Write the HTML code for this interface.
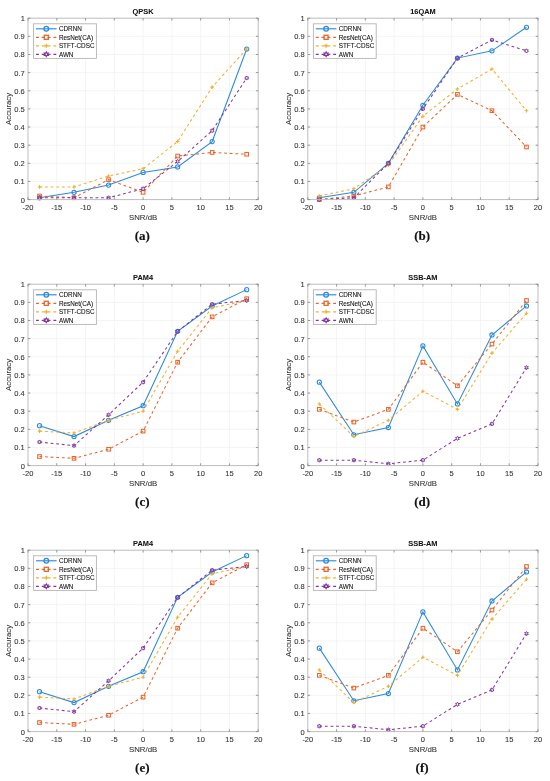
<!DOCTYPE html>
<html><head><meta charset="utf-8"><title>Accuracy vs SNR</title>
<style>
html,body{margin:0;padding:0;background:#fff;}
body{width:550px;height:781px;overflow:hidden;}
svg{display:block;filter:blur(0.25px);}
text{font-family:"Liberation Sans",sans-serif;fill:#333333;stroke:#333333;stroke-width:0.08px;}
.tk text{font-size:7.5px;}
.al{font-size:7.8px;}
.ti{font-size:7.4px;font-weight:bold;fill:#111;stroke:#111;stroke-width:0.05px;}
.lg{font-size:6.35px;fill:#111;stroke:#111;}
.cap{font-family:"Liberation Serif",serif;font-weight:bold;font-size:13px;fill:#111;stroke:#111;stroke-width:0.15px;}
</style></head>
<body>
<svg width="550" height="781" viewBox="0 0 550 781">
<rect width="550" height="781" fill="#fff"/>
<path d="M56.77 18.2V199.6M85.55 18.2V199.6M114.32 18.2V199.6M143.1 18.2V199.6M171.88 18.2V199.6M200.65 18.2V199.6M229.42 18.2V199.6M28 181.46H258.2M28 163.32H258.2M28 145.18H258.2M28 127.04H258.2M28 108.9H258.2M28 90.76H258.2M28 72.62H258.2M28 54.48H258.2M28 36.34H258.2" stroke="#f1f1f1" stroke-width="0.8" fill="none"/>
<polyline points="39.51,197.79 74.04,192.34 108.57,185.09 143.1,172.39 177.63,166.95 212.16,141.55 246.69,49.04" fill="none" stroke="#2a8bdb" stroke-width="1.05"/>
<circle cx="39.51" cy="197.79" r="2.1" fill="none" stroke="#2a8bdb" stroke-width="1.05"/>
<circle cx="74.04" cy="192.34" r="2.1" fill="none" stroke="#2a8bdb" stroke-width="1.05"/>
<circle cx="108.57" cy="185.09" r="2.1" fill="none" stroke="#2a8bdb" stroke-width="1.05"/>
<circle cx="143.1" cy="172.39" r="2.1" fill="none" stroke="#2a8bdb" stroke-width="1.05"/>
<circle cx="177.63" cy="166.95" r="2.1" fill="none" stroke="#2a8bdb" stroke-width="1.05"/>
<circle cx="212.16" cy="141.55" r="2.1" fill="none" stroke="#2a8bdb" stroke-width="1.05"/>
<circle cx="246.69" cy="49.04" r="2.1" fill="none" stroke="#2a8bdb" stroke-width="1.05"/>
<polyline points="39.51,195.97 74.04,197.79 108.57,179.65 143.1,192.34 177.63,156.06 212.16,152.44 246.69,154.25" fill="none" stroke="#e8652a" stroke-width="1.05" stroke-dasharray="2.8 2.8"/>
<rect x="37.7" y="194.17" width="3.61" height="3.61" fill="none" stroke="#e8652a" stroke-width="1.05"/>
<rect x="72.23" y="195.98" width="3.61" height="3.61" fill="none" stroke="#e8652a" stroke-width="1.05"/>
<rect x="106.76" y="177.84" width="3.61" height="3.61" fill="none" stroke="#e8652a" stroke-width="1.05"/>
<rect x="141.29" y="190.54" width="3.61" height="3.61" fill="none" stroke="#e8652a" stroke-width="1.05"/>
<rect x="175.82" y="154.26" width="3.61" height="3.61" fill="none" stroke="#e8652a" stroke-width="1.05"/>
<rect x="210.35" y="150.63" width="3.61" height="3.61" fill="none" stroke="#e8652a" stroke-width="1.05"/>
<rect x="244.88" y="152.44" width="3.61" height="3.61" fill="none" stroke="#e8652a" stroke-width="1.05"/>
<polyline points="39.51,186.9 74.04,186.9 108.57,176.02 143.1,168.76 177.63,141.55 212.16,87.13 246.69,49.04" fill="none" stroke="#f2b02c" stroke-width="1.05" stroke-dasharray="2.8 2.8"/>
<path d="M37.73 186.9H41.29M39.51 185.12V188.69" stroke="#f2b02c" stroke-width="1.05" fill="none"/>
<path d="M72.25 186.9H75.82M74.04 185.12V188.69" stroke="#f2b02c" stroke-width="1.05" fill="none"/>
<path d="M106.78 176.02H110.35M108.57 174.23V177.8" stroke="#f2b02c" stroke-width="1.05" fill="none"/>
<path d="M141.31 168.76H144.88M143.1 166.98V170.55" stroke="#f2b02c" stroke-width="1.05" fill="none"/>
<path d="M175.84 141.55H179.41M177.63 139.77V143.34" stroke="#f2b02c" stroke-width="1.05" fill="none"/>
<path d="M210.38 87.13H213.94M212.16 85.35V88.92" stroke="#f2b02c" stroke-width="1.05" fill="none"/>
<path d="M244.9 49.04H248.47M246.69 47.25V50.82" stroke="#f2b02c" stroke-width="1.05" fill="none"/>
<polyline points="39.51,197.79 74.04,197.79 108.57,197.79 143.1,188.72 177.63,161.51 212.16,130.67 246.69,78.06" fill="none" stroke="#8536a0" stroke-width="1.05" stroke-dasharray="2.8 2.8"/>
<path d="M39.51 195.73 L38.91 196.75 L37.73 196.76 L38.32 197.79 L37.73 198.81 L38.91 198.82 L39.51 199.84 L40.11 198.82 L41.29 198.81 L40.7 197.79 L41.29 196.76 L40.11 196.75Z" fill="none" stroke="#8536a0" stroke-width="1" stroke-linejoin="miter"/>
<path d="M74.04 195.73 L73.44 196.75 L72.26 196.76 L72.85 197.79 L72.26 198.81 L73.44 198.82 L74.04 199.84 L74.64 198.82 L75.82 198.81 L75.23 197.79 L75.82 196.76 L74.64 196.75Z" fill="none" stroke="#8536a0" stroke-width="1" stroke-linejoin="miter"/>
<path d="M108.57 195.73 L107.97 196.75 L106.79 196.76 L107.38 197.79 L106.79 198.81 L107.97 198.82 L108.57 199.84 L109.17 198.82 L110.35 198.81 L109.76 197.79 L110.35 196.76 L109.17 196.75Z" fill="none" stroke="#8536a0" stroke-width="1" stroke-linejoin="miter"/>
<path d="M143.1 186.66 L142.5 187.68 L141.32 187.69 L141.91 188.72 L141.32 189.75 L142.5 189.75 L143.1 190.77 L143.7 189.75 L144.88 189.75 L144.29 188.72 L144.88 187.69 L143.7 187.68Z" fill="none" stroke="#8536a0" stroke-width="1" stroke-linejoin="miter"/>
<path d="M177.63 159.45 L177.03 160.47 L175.85 160.48 L176.44 161.51 L175.85 162.53 L177.03 162.54 L177.63 163.56 L178.23 162.54 L179.41 162.53 L178.82 161.51 L179.41 160.48 L178.23 160.47Z" fill="none" stroke="#8536a0" stroke-width="1" stroke-linejoin="miter"/>
<path d="M212.16 128.61 L211.56 129.63 L210.38 129.64 L210.97 130.67 L210.38 131.7 L211.56 131.7 L212.16 132.73 L212.76 131.7 L213.94 131.7 L213.35 130.67 L213.94 129.64 L212.76 129.63Z" fill="none" stroke="#8536a0" stroke-width="1" stroke-linejoin="miter"/>
<path d="M246.69 76 L246.09 77.03 L244.91 77.03 L245.5 78.06 L244.91 79.09 L246.09 79.1 L246.69 80.12 L247.29 79.1 L248.47 79.09 L247.88 78.06 L248.47 77.03 L247.29 77.03Z" fill="none" stroke="#8536a0" stroke-width="1" stroke-linejoin="miter"/>
<rect x="28" y="18.2" width="230.2" height="181.4" fill="none" stroke="#bdbdbd" stroke-width="1"/>
<path d="M28 199.6v-2.3M28 18.2v2.3M56.77 199.6v-2.3M56.77 18.2v2.3M85.55 199.6v-2.3M85.55 18.2v2.3M114.32 199.6v-2.3M114.32 18.2v2.3M143.1 199.6v-2.3M143.1 18.2v2.3M171.88 199.6v-2.3M171.88 18.2v2.3M200.65 199.6v-2.3M200.65 18.2v2.3M229.42 199.6v-2.3M229.42 18.2v2.3M258.2 199.6v-2.3M258.2 18.2v2.3M28 199.6h2.3M258.2 199.6h-2.3M28 181.46h2.3M258.2 181.46h-2.3M28 163.32h2.3M258.2 163.32h-2.3M28 145.18h2.3M258.2 145.18h-2.3M28 127.04h2.3M258.2 127.04h-2.3M28 108.9h2.3M258.2 108.9h-2.3M28 90.76h2.3M258.2 90.76h-2.3M28 72.62h2.3M258.2 72.62h-2.3M28 54.48h2.3M258.2 54.48h-2.3M28 36.34h2.3M258.2 36.34h-2.3M28 18.2h2.3M258.2 18.2h-2.3" stroke="#808080" stroke-width="0.8" fill="none"/>
<g class="tk"><text x="28" y="209.8" text-anchor="middle">-20</text><text x="56.77" y="209.8" text-anchor="middle">-15</text><text x="85.55" y="209.8" text-anchor="middle">-10</text><text x="114.32" y="209.8" text-anchor="middle">-5</text><text x="143.1" y="209.8" text-anchor="middle">0</text><text x="171.88" y="209.8" text-anchor="middle">5</text><text x="200.65" y="209.8" text-anchor="middle">10</text><text x="229.42" y="209.8" text-anchor="middle">15</text><text x="258.2" y="209.8" text-anchor="middle">20</text><text x="24.8" y="202.6" text-anchor="end">0</text><text x="24.8" y="184.46" text-anchor="end">0.1</text><text x="24.8" y="166.32" text-anchor="end">0.2</text><text x="24.8" y="148.18" text-anchor="end">0.3</text><text x="24.8" y="130.04" text-anchor="end">0.4</text><text x="24.8" y="111.9" text-anchor="end">0.5</text><text x="24.8" y="93.76" text-anchor="end">0.6</text><text x="24.8" y="75.62" text-anchor="end">0.7</text><text x="24.8" y="57.48" text-anchor="end">0.8</text><text x="24.8" y="39.34" text-anchor="end">0.9</text><text x="24.8" y="21.2" text-anchor="end">1</text></g>
<text class="al" x="143.1" y="220.4" text-anchor="middle">SNR/dB</text>
<text class="al" transform="translate(11.2 108.9) rotate(-90)" text-anchor="middle">Accuracy</text>
<text class="ti" x="143.1" y="14.3" text-anchor="middle">QPSK</text>
<text class="cap" x="142.3" y="240.2" text-anchor="middle">(a)</text>
<rect x="33.6" y="23.8" width="62.8" height="34.6" fill="#fff" stroke="#b4b4b4" stroke-width="0.9"/>
<path d="M36 28.8H56.6" stroke="#2a8bdb" stroke-width="1.15" fill="none"/>
<circle cx="46.3" cy="28.8" r="2.35" fill="none" stroke="#2a8bdb" stroke-width="1.3"/>
<text class="lg" x="58.9" y="31">CDRNN</text>
<path d="M36 37.3H56.6" stroke="#e8652a" stroke-width="1.15" stroke-dasharray="2.9 2.9" fill="none"/>
<rect x="44.28" y="35.28" width="4.05" height="4.05" fill="none" stroke="#e8652a" stroke-width="1.3"/>
<text class="lg" x="58.9" y="39.5">ResNet(CA)</text>
<path d="M36 45.8H56.6" stroke="#f2b02c" stroke-width="1.15" stroke-dasharray="2.9 2.9" fill="none"/>
<path d="M44.3 45.8H48.3M46.3 43.8V47.8" stroke="#f2b02c" stroke-width="1.3" fill="none"/>
<text class="lg" x="58.9" y="48">STFT-CDSC</text>
<path d="M36 54.3H56.6" stroke="#8536a0" stroke-width="1.15" stroke-dasharray="2.9 2.9" fill="none"/>
<path d="M46.3 52 L45.63 53.14 L44.3 53.15 L44.96 54.3 L44.3 55.45 L45.63 55.46 L46.3 56.6 L46.97 55.46 L48.3 55.45 L47.64 54.3 L48.3 53.15 L46.97 53.14Z" fill="none" stroke="#8536a0" stroke-width="1.23" stroke-linejoin="miter"/>
<text class="lg" x="58.9" y="56.5">AWN</text>
<path d="M336.57 18.2V199.6M365.35 18.2V199.6M394.12 18.2V199.6M422.9 18.2V199.6M451.68 18.2V199.6M480.45 18.2V199.6M509.23 18.2V199.6M307.8 181.46H538M307.8 163.32H538M307.8 145.18H538M307.8 127.04H538M307.8 108.9H538M307.8 90.76H538M307.8 72.62H538M307.8 54.48H538M307.8 36.34H538" stroke="#f1f1f1" stroke-width="0.8" fill="none"/>
<polyline points="319.31,197.79 353.84,192.34 388.37,163.32 422.9,105.27 457.43,58.11 491.96,50.85 526.49,27.27" fill="none" stroke="#2a8bdb" stroke-width="1.05"/>
<circle cx="319.31" cy="197.79" r="2.1" fill="none" stroke="#2a8bdb" stroke-width="1.05"/>
<circle cx="353.84" cy="192.34" r="2.1" fill="none" stroke="#2a8bdb" stroke-width="1.05"/>
<circle cx="388.37" cy="163.32" r="2.1" fill="none" stroke="#2a8bdb" stroke-width="1.05"/>
<circle cx="422.9" cy="105.27" r="2.1" fill="none" stroke="#2a8bdb" stroke-width="1.05"/>
<circle cx="457.43" cy="58.11" r="2.1" fill="none" stroke="#2a8bdb" stroke-width="1.05"/>
<circle cx="491.96" cy="50.85" r="2.1" fill="none" stroke="#2a8bdb" stroke-width="1.05"/>
<circle cx="526.49" cy="27.27" r="2.1" fill="none" stroke="#2a8bdb" stroke-width="1.05"/>
<polyline points="319.31,199.6 353.84,195.97 388.37,186.9 422.9,127.04 457.43,94.39 491.96,110.71 526.49,146.99" fill="none" stroke="#e8652a" stroke-width="1.05" stroke-dasharray="2.8 2.8"/>
<rect x="317.5" y="197.79" width="3.61" height="3.61" fill="none" stroke="#e8652a" stroke-width="1.05"/>
<rect x="352.03" y="194.17" width="3.61" height="3.61" fill="none" stroke="#e8652a" stroke-width="1.05"/>
<rect x="386.56" y="185.1" width="3.61" height="3.61" fill="none" stroke="#e8652a" stroke-width="1.05"/>
<rect x="421.09" y="125.23" width="3.61" height="3.61" fill="none" stroke="#e8652a" stroke-width="1.05"/>
<rect x="455.62" y="92.58" width="3.61" height="3.61" fill="none" stroke="#e8652a" stroke-width="1.05"/>
<rect x="490.15" y="108.91" width="3.61" height="3.61" fill="none" stroke="#e8652a" stroke-width="1.05"/>
<rect x="524.68" y="145.19" width="3.61" height="3.61" fill="none" stroke="#e8652a" stroke-width="1.05"/>
<polyline points="319.31,195.97 353.84,188.72 388.37,165.13 422.9,116.16 457.43,88.95 491.96,68.99 526.49,110.71" fill="none" stroke="#f2b02c" stroke-width="1.05" stroke-dasharray="2.8 2.8"/>
<path d="M317.52 195.97H321.1M319.31 194.19V197.76" stroke="#f2b02c" stroke-width="1.05" fill="none"/>
<path d="M352.06 188.72H355.63M353.84 186.93V190.5" stroke="#f2b02c" stroke-width="1.05" fill="none"/>
<path d="M386.58 165.13H390.16M388.37 163.35V166.92" stroke="#f2b02c" stroke-width="1.05" fill="none"/>
<path d="M421.11 116.16H424.69M422.9 114.37V117.94" stroke="#f2b02c" stroke-width="1.05" fill="none"/>
<path d="M455.64 88.95H459.22M457.43 87.16V90.73" stroke="#f2b02c" stroke-width="1.05" fill="none"/>
<path d="M490.18 68.99H493.75M491.96 67.21V70.78" stroke="#f2b02c" stroke-width="1.05" fill="none"/>
<path d="M524.71 110.71H528.27M526.49 108.93V112.5" stroke="#f2b02c" stroke-width="1.05" fill="none"/>
<polyline points="319.31,199.6 353.84,197.79 388.37,163.32 422.9,108.9 457.43,58.11 491.96,39.97 526.49,50.85" fill="none" stroke="#8536a0" stroke-width="1.05" stroke-dasharray="2.8 2.8"/>
<path d="M319.31 197.54 L318.71 198.57 L317.53 198.57 L318.12 199.6 L317.53 200.63 L318.71 200.63 L319.31 201.66 L319.91 200.63 L321.09 200.63 L320.5 199.6 L321.09 198.57 L319.91 198.57Z" fill="none" stroke="#8536a0" stroke-width="1" stroke-linejoin="miter"/>
<path d="M353.84 195.73 L353.24 196.75 L352.06 196.76 L352.65 197.79 L352.06 198.81 L353.24 198.82 L353.84 199.84 L354.44 198.82 L355.62 198.81 L355.03 197.79 L355.62 196.76 L354.44 196.75Z" fill="none" stroke="#8536a0" stroke-width="1" stroke-linejoin="miter"/>
<path d="M388.37 161.26 L387.77 162.29 L386.59 162.29 L387.18 163.32 L386.59 164.35 L387.77 164.35 L388.37 165.38 L388.97 164.35 L390.15 164.35 L389.56 163.32 L390.15 162.29 L388.97 162.29Z" fill="none" stroke="#8536a0" stroke-width="1" stroke-linejoin="miter"/>
<path d="M422.9 106.84 L422.3 107.87 L421.12 107.87 L421.71 108.9 L421.12 109.93 L422.3 109.93 L422.9 110.96 L423.5 109.93 L424.68 109.93 L424.09 108.9 L424.68 107.87 L423.5 107.87Z" fill="none" stroke="#8536a0" stroke-width="1" stroke-linejoin="miter"/>
<path d="M457.43 56.05 L456.83 57.07 L455.65 57.08 L456.24 58.11 L455.65 59.14 L456.83 59.14 L457.43 60.17 L458.03 59.14 L459.21 59.14 L458.62 58.11 L459.21 57.08 L458.03 57.07Z" fill="none" stroke="#8536a0" stroke-width="1" stroke-linejoin="miter"/>
<path d="M491.96 37.91 L491.36 38.93 L490.18 38.94 L490.77 39.97 L490.18 41 L491.36 41 L491.96 42.03 L492.56 41 L493.74 41 L493.15 39.97 L493.74 38.94 L492.56 38.93Z" fill="none" stroke="#8536a0" stroke-width="1" stroke-linejoin="miter"/>
<path d="M526.49 48.79 L525.89 49.82 L524.71 49.82 L525.3 50.85 L524.71 51.88 L525.89 51.89 L526.49 52.91 L527.09 51.89 L528.27 51.88 L527.68 50.85 L528.27 49.82 L527.09 49.82Z" fill="none" stroke="#8536a0" stroke-width="1" stroke-linejoin="miter"/>
<rect x="307.8" y="18.2" width="230.2" height="181.4" fill="none" stroke="#bdbdbd" stroke-width="1"/>
<path d="M307.8 199.6v-2.3M307.8 18.2v2.3M336.57 199.6v-2.3M336.57 18.2v2.3M365.35 199.6v-2.3M365.35 18.2v2.3M394.12 199.6v-2.3M394.12 18.2v2.3M422.9 199.6v-2.3M422.9 18.2v2.3M451.68 199.6v-2.3M451.68 18.2v2.3M480.45 199.6v-2.3M480.45 18.2v2.3M509.23 199.6v-2.3M509.23 18.2v2.3M538 199.6v-2.3M538 18.2v2.3M307.8 199.6h2.3M538 199.6h-2.3M307.8 181.46h2.3M538 181.46h-2.3M307.8 163.32h2.3M538 163.32h-2.3M307.8 145.18h2.3M538 145.18h-2.3M307.8 127.04h2.3M538 127.04h-2.3M307.8 108.9h2.3M538 108.9h-2.3M307.8 90.76h2.3M538 90.76h-2.3M307.8 72.62h2.3M538 72.62h-2.3M307.8 54.48h2.3M538 54.48h-2.3M307.8 36.34h2.3M538 36.34h-2.3M307.8 18.2h2.3M538 18.2h-2.3" stroke="#808080" stroke-width="0.8" fill="none"/>
<g class="tk"><text x="307.8" y="209.8" text-anchor="middle">-20</text><text x="336.57" y="209.8" text-anchor="middle">-15</text><text x="365.35" y="209.8" text-anchor="middle">-10</text><text x="394.12" y="209.8" text-anchor="middle">-5</text><text x="422.9" y="209.8" text-anchor="middle">0</text><text x="451.68" y="209.8" text-anchor="middle">5</text><text x="480.45" y="209.8" text-anchor="middle">10</text><text x="509.23" y="209.8" text-anchor="middle">15</text><text x="538" y="209.8" text-anchor="middle">20</text><text x="304.6" y="202.6" text-anchor="end">0</text><text x="304.6" y="184.46" text-anchor="end">0.1</text><text x="304.6" y="166.32" text-anchor="end">0.2</text><text x="304.6" y="148.18" text-anchor="end">0.3</text><text x="304.6" y="130.04" text-anchor="end">0.4</text><text x="304.6" y="111.9" text-anchor="end">0.5</text><text x="304.6" y="93.76" text-anchor="end">0.6</text><text x="304.6" y="75.62" text-anchor="end">0.7</text><text x="304.6" y="57.48" text-anchor="end">0.8</text><text x="304.6" y="39.34" text-anchor="end">0.9</text><text x="304.6" y="21.2" text-anchor="end">1</text></g>
<text class="al" x="422.9" y="220.4" text-anchor="middle">SNR/dB</text>
<text class="al" transform="translate(291 108.9) rotate(-90)" text-anchor="middle">Accuracy</text>
<text class="ti" x="422.9" y="14.3" text-anchor="middle">16QAM</text>
<text class="cap" x="422.1" y="240.2" text-anchor="middle">(b)</text>
<rect x="313.4" y="23.8" width="62.8" height="34.6" fill="#fff" stroke="#b4b4b4" stroke-width="0.9"/>
<path d="M315.8 28.8H336.4" stroke="#2a8bdb" stroke-width="1.15" fill="none"/>
<circle cx="326.1" cy="28.8" r="2.35" fill="none" stroke="#2a8bdb" stroke-width="1.3"/>
<text class="lg" x="338.7" y="31">CDRNN</text>
<path d="M315.8 37.3H336.4" stroke="#e8652a" stroke-width="1.15" stroke-dasharray="2.9 2.9" fill="none"/>
<rect x="324.08" y="35.28" width="4.05" height="4.05" fill="none" stroke="#e8652a" stroke-width="1.3"/>
<text class="lg" x="338.7" y="39.5">ResNet(CA)</text>
<path d="M315.8 45.8H336.4" stroke="#f2b02c" stroke-width="1.15" stroke-dasharray="2.9 2.9" fill="none"/>
<path d="M324.1 45.8H328.1M326.1 43.8V47.8" stroke="#f2b02c" stroke-width="1.3" fill="none"/>
<text class="lg" x="338.7" y="48">STFT-CDSC</text>
<path d="M315.8 54.3H336.4" stroke="#8536a0" stroke-width="1.15" stroke-dasharray="2.9 2.9" fill="none"/>
<path d="M326.1 52 L325.43 53.14 L324.1 53.15 L324.76 54.3 L324.1 55.45 L325.43 55.46 L326.1 56.6 L326.77 55.46 L328.1 55.45 L327.44 54.3 L328.1 53.15 L326.77 53.14Z" fill="none" stroke="#8536a0" stroke-width="1.23" stroke-linejoin="miter"/>
<text class="lg" x="338.7" y="56.5">AWN</text>
<path d="M56.77 284.2V465.6M85.55 284.2V465.6M114.32 284.2V465.6M143.1 284.2V465.6M171.88 284.2V465.6M200.65 284.2V465.6M229.42 284.2V465.6M28 447.46H258.2M28 429.32H258.2M28 411.18H258.2M28 393.04H258.2M28 374.9H258.2M28 356.76H258.2M28 338.62H258.2M28 320.48H258.2M28 302.34H258.2" stroke="#f1f1f1" stroke-width="0.8" fill="none"/>
<polyline points="39.51,425.69 74.04,436.58 108.57,420.25 143.1,405.74 177.63,331.36 212.16,305.97 246.69,289.64" fill="none" stroke="#2a8bdb" stroke-width="1.05"/>
<circle cx="39.51" cy="425.69" r="2.1" fill="none" stroke="#2a8bdb" stroke-width="1.05"/>
<circle cx="74.04" cy="436.58" r="2.1" fill="none" stroke="#2a8bdb" stroke-width="1.05"/>
<circle cx="108.57" cy="420.25" r="2.1" fill="none" stroke="#2a8bdb" stroke-width="1.05"/>
<circle cx="143.1" cy="405.74" r="2.1" fill="none" stroke="#2a8bdb" stroke-width="1.05"/>
<circle cx="177.63" cy="331.36" r="2.1" fill="none" stroke="#2a8bdb" stroke-width="1.05"/>
<circle cx="212.16" cy="305.97" r="2.1" fill="none" stroke="#2a8bdb" stroke-width="1.05"/>
<circle cx="246.69" cy="289.64" r="2.1" fill="none" stroke="#2a8bdb" stroke-width="1.05"/>
<polyline points="39.51,456.53 74.04,458.34 108.57,449.27 143.1,431.13 177.63,362.2 212.16,316.85 246.69,298.71" fill="none" stroke="#e8652a" stroke-width="1.05" stroke-dasharray="2.8 2.8"/>
<rect x="37.7" y="454.72" width="3.61" height="3.61" fill="none" stroke="#e8652a" stroke-width="1.05"/>
<rect x="72.23" y="456.54" width="3.61" height="3.61" fill="none" stroke="#e8652a" stroke-width="1.05"/>
<rect x="106.76" y="447.47" width="3.61" height="3.61" fill="none" stroke="#e8652a" stroke-width="1.05"/>
<rect x="141.29" y="429.33" width="3.61" height="3.61" fill="none" stroke="#e8652a" stroke-width="1.05"/>
<rect x="175.82" y="360.4" width="3.61" height="3.61" fill="none" stroke="#e8652a" stroke-width="1.05"/>
<rect x="210.35" y="315.05" width="3.61" height="3.61" fill="none" stroke="#e8652a" stroke-width="1.05"/>
<rect x="244.88" y="296.91" width="3.61" height="3.61" fill="none" stroke="#e8652a" stroke-width="1.05"/>
<polyline points="39.51,431.13 74.04,432.95 108.57,420.25 143.1,411.18 177.63,351.32 212.16,307.78 246.69,300.53" fill="none" stroke="#f2b02c" stroke-width="1.05" stroke-dasharray="2.8 2.8"/>
<path d="M37.73 431.13H41.29M39.51 429.35V432.92" stroke="#f2b02c" stroke-width="1.05" fill="none"/>
<path d="M72.25 432.95H75.82M74.04 431.16V434.73" stroke="#f2b02c" stroke-width="1.05" fill="none"/>
<path d="M106.78 420.25H110.35M108.57 418.46V422.04" stroke="#f2b02c" stroke-width="1.05" fill="none"/>
<path d="M141.31 411.18H144.88M143.1 409.39V412.97" stroke="#f2b02c" stroke-width="1.05" fill="none"/>
<path d="M175.84 351.32H179.41M177.63 349.53V353.1" stroke="#f2b02c" stroke-width="1.05" fill="none"/>
<path d="M210.38 307.78H213.94M212.16 306V309.57" stroke="#f2b02c" stroke-width="1.05" fill="none"/>
<path d="M244.9 300.53H248.47M246.69 298.74V302.31" stroke="#f2b02c" stroke-width="1.05" fill="none"/>
<polyline points="39.51,442.02 74.04,445.65 108.57,414.81 143.1,382.16 177.63,331.36 212.16,304.15 246.69,300.53" fill="none" stroke="#8536a0" stroke-width="1.05" stroke-dasharray="2.8 2.8"/>
<path d="M39.51 439.96 L38.91 440.98 L37.73 440.99 L38.32 442.02 L37.73 443.05 L38.91 443.05 L39.51 444.08 L40.11 443.05 L41.29 443.05 L40.7 442.02 L41.29 440.99 L40.11 440.98Z" fill="none" stroke="#8536a0" stroke-width="1" stroke-linejoin="miter"/>
<path d="M74.04 443.59 L73.44 444.61 L72.26 444.62 L72.85 445.65 L72.26 446.68 L73.44 446.68 L74.04 447.7 L74.64 446.68 L75.82 446.68 L75.23 445.65 L75.82 444.62 L74.64 444.61Z" fill="none" stroke="#8536a0" stroke-width="1" stroke-linejoin="miter"/>
<path d="M108.57 412.75 L107.97 413.77 L106.79 413.78 L107.38 414.81 L106.79 415.84 L107.97 415.84 L108.57 416.87 L109.17 415.84 L110.35 415.84 L109.76 414.81 L110.35 413.78 L109.17 413.77Z" fill="none" stroke="#8536a0" stroke-width="1" stroke-linejoin="miter"/>
<path d="M143.1 380.1 L142.5 381.12 L141.32 381.13 L141.91 382.16 L141.32 383.19 L142.5 383.19 L143.1 384.21 L143.7 383.19 L144.88 383.19 L144.29 382.16 L144.88 381.13 L143.7 381.12Z" fill="none" stroke="#8536a0" stroke-width="1" stroke-linejoin="miter"/>
<path d="M177.63 329.31 L177.03 330.33 L175.85 330.34 L176.44 331.36 L175.85 332.39 L177.03 332.4 L177.63 333.42 L178.23 332.4 L179.41 332.39 L178.82 331.36 L179.41 330.34 L178.23 330.33Z" fill="none" stroke="#8536a0" stroke-width="1" stroke-linejoin="miter"/>
<path d="M212.16 302.1 L211.56 303.12 L210.38 303.12 L210.97 304.15 L210.38 305.18 L211.56 305.19 L212.16 306.21 L212.76 305.19 L213.94 305.18 L213.35 304.15 L213.94 303.12 L212.76 303.12Z" fill="none" stroke="#8536a0" stroke-width="1" stroke-linejoin="miter"/>
<path d="M246.69 298.47 L246.09 299.49 L244.91 299.5 L245.5 300.53 L244.91 301.56 L246.09 301.56 L246.69 302.58 L247.29 301.56 L248.47 301.56 L247.88 300.53 L248.47 299.5 L247.29 299.49Z" fill="none" stroke="#8536a0" stroke-width="1" stroke-linejoin="miter"/>
<rect x="28" y="284.2" width="230.2" height="181.4" fill="none" stroke="#bdbdbd" stroke-width="1"/>
<path d="M28 465.6v-2.3M28 284.2v2.3M56.77 465.6v-2.3M56.77 284.2v2.3M85.55 465.6v-2.3M85.55 284.2v2.3M114.32 465.6v-2.3M114.32 284.2v2.3M143.1 465.6v-2.3M143.1 284.2v2.3M171.88 465.6v-2.3M171.88 284.2v2.3M200.65 465.6v-2.3M200.65 284.2v2.3M229.42 465.6v-2.3M229.42 284.2v2.3M258.2 465.6v-2.3M258.2 284.2v2.3M28 465.6h2.3M258.2 465.6h-2.3M28 447.46h2.3M258.2 447.46h-2.3M28 429.32h2.3M258.2 429.32h-2.3M28 411.18h2.3M258.2 411.18h-2.3M28 393.04h2.3M258.2 393.04h-2.3M28 374.9h2.3M258.2 374.9h-2.3M28 356.76h2.3M258.2 356.76h-2.3M28 338.62h2.3M258.2 338.62h-2.3M28 320.48h2.3M258.2 320.48h-2.3M28 302.34h2.3M258.2 302.34h-2.3M28 284.2h2.3M258.2 284.2h-2.3" stroke="#808080" stroke-width="0.8" fill="none"/>
<g class="tk"><text x="28" y="475.8" text-anchor="middle">-20</text><text x="56.77" y="475.8" text-anchor="middle">-15</text><text x="85.55" y="475.8" text-anchor="middle">-10</text><text x="114.32" y="475.8" text-anchor="middle">-5</text><text x="143.1" y="475.8" text-anchor="middle">0</text><text x="171.88" y="475.8" text-anchor="middle">5</text><text x="200.65" y="475.8" text-anchor="middle">10</text><text x="229.42" y="475.8" text-anchor="middle">15</text><text x="258.2" y="475.8" text-anchor="middle">20</text><text x="24.8" y="468.6" text-anchor="end">0</text><text x="24.8" y="450.46" text-anchor="end">0.1</text><text x="24.8" y="432.32" text-anchor="end">0.2</text><text x="24.8" y="414.18" text-anchor="end">0.3</text><text x="24.8" y="396.04" text-anchor="end">0.4</text><text x="24.8" y="377.9" text-anchor="end">0.5</text><text x="24.8" y="359.76" text-anchor="end">0.6</text><text x="24.8" y="341.62" text-anchor="end">0.7</text><text x="24.8" y="323.48" text-anchor="end">0.8</text><text x="24.8" y="305.34" text-anchor="end">0.9</text><text x="24.8" y="287.2" text-anchor="end">1</text></g>
<text class="al" x="143.1" y="486.4" text-anchor="middle">SNR/dB</text>
<text class="al" transform="translate(11.2 374.9) rotate(-90)" text-anchor="middle">Accuracy</text>
<text class="ti" x="143.1" y="280.3" text-anchor="middle">PAM4</text>
<text class="cap" x="142.3" y="506.2" text-anchor="middle">(c)</text>
<rect x="33.6" y="289.8" width="62.8" height="34.6" fill="#fff" stroke="#b4b4b4" stroke-width="0.9"/>
<path d="M36 294.8H56.6" stroke="#2a8bdb" stroke-width="1.15" fill="none"/>
<circle cx="46.3" cy="294.8" r="2.35" fill="none" stroke="#2a8bdb" stroke-width="1.3"/>
<text class="lg" x="58.9" y="297">CDRNN</text>
<path d="M36 303.3H56.6" stroke="#e8652a" stroke-width="1.15" stroke-dasharray="2.9 2.9" fill="none"/>
<rect x="44.28" y="301.28" width="4.05" height="4.05" fill="none" stroke="#e8652a" stroke-width="1.3"/>
<text class="lg" x="58.9" y="305.5">ResNet(CA)</text>
<path d="M36 311.8H56.6" stroke="#f2b02c" stroke-width="1.15" stroke-dasharray="2.9 2.9" fill="none"/>
<path d="M44.3 311.8H48.3M46.3 309.8V313.8" stroke="#f2b02c" stroke-width="1.3" fill="none"/>
<text class="lg" x="58.9" y="314">STFT-CDSC</text>
<path d="M36 320.3H56.6" stroke="#8536a0" stroke-width="1.15" stroke-dasharray="2.9 2.9" fill="none"/>
<path d="M46.3 318 L45.63 319.14 L44.3 319.15 L44.96 320.3 L44.3 321.45 L45.63 321.46 L46.3 322.6 L46.97 321.46 L48.3 321.45 L47.64 320.3 L48.3 319.15 L46.97 319.14Z" fill="none" stroke="#8536a0" stroke-width="1.23" stroke-linejoin="miter"/>
<text class="lg" x="58.9" y="322.5">AWN</text>
<path d="M336.57 284.2V465.6M365.35 284.2V465.6M394.12 284.2V465.6M422.9 284.2V465.6M451.68 284.2V465.6M480.45 284.2V465.6M509.23 284.2V465.6M307.8 447.46H538M307.8 429.32H538M307.8 411.18H538M307.8 393.04H538M307.8 374.9H538M307.8 356.76H538M307.8 338.62H538M307.8 320.48H538M307.8 302.34H538" stroke="#f1f1f1" stroke-width="0.8" fill="none"/>
<polyline points="319.31,382.16 353.84,434.76 388.37,427.51 422.9,345.88 457.43,403.92 491.96,334.99 526.49,305.97" fill="none" stroke="#2a8bdb" stroke-width="1.05"/>
<circle cx="319.31" cy="382.16" r="2.1" fill="none" stroke="#2a8bdb" stroke-width="1.05"/>
<circle cx="353.84" cy="434.76" r="2.1" fill="none" stroke="#2a8bdb" stroke-width="1.05"/>
<circle cx="388.37" cy="427.51" r="2.1" fill="none" stroke="#2a8bdb" stroke-width="1.05"/>
<circle cx="422.9" cy="345.88" r="2.1" fill="none" stroke="#2a8bdb" stroke-width="1.05"/>
<circle cx="457.43" cy="403.92" r="2.1" fill="none" stroke="#2a8bdb" stroke-width="1.05"/>
<circle cx="491.96" cy="334.99" r="2.1" fill="none" stroke="#2a8bdb" stroke-width="1.05"/>
<circle cx="526.49" cy="305.97" r="2.1" fill="none" stroke="#2a8bdb" stroke-width="1.05"/>
<polyline points="319.31,409.37 353.84,422.06 388.37,409.37 422.9,362.2 457.43,385.78 491.96,344.06 526.49,300.53" fill="none" stroke="#e8652a" stroke-width="1.05" stroke-dasharray="2.8 2.8"/>
<rect x="317.5" y="407.56" width="3.61" height="3.61" fill="none" stroke="#e8652a" stroke-width="1.05"/>
<rect x="352.03" y="420.26" width="3.61" height="3.61" fill="none" stroke="#e8652a" stroke-width="1.05"/>
<rect x="386.56" y="407.56" width="3.61" height="3.61" fill="none" stroke="#e8652a" stroke-width="1.05"/>
<rect x="421.09" y="360.4" width="3.61" height="3.61" fill="none" stroke="#e8652a" stroke-width="1.05"/>
<rect x="455.62" y="383.98" width="3.61" height="3.61" fill="none" stroke="#e8652a" stroke-width="1.05"/>
<rect x="490.15" y="342.26" width="3.61" height="3.61" fill="none" stroke="#e8652a" stroke-width="1.05"/>
<rect x="524.68" y="298.72" width="3.61" height="3.61" fill="none" stroke="#e8652a" stroke-width="1.05"/>
<polyline points="319.31,403.92 353.84,436.58 388.37,420.25 422.9,391.23 457.43,409.37 491.96,353.13 526.49,313.22" fill="none" stroke="#f2b02c" stroke-width="1.05" stroke-dasharray="2.8 2.8"/>
<path d="M317.52 403.92H321.1M319.31 402.14V405.71" stroke="#f2b02c" stroke-width="1.05" fill="none"/>
<path d="M352.06 436.58H355.63M353.84 434.79V438.36" stroke="#f2b02c" stroke-width="1.05" fill="none"/>
<path d="M386.58 420.25H390.16M388.37 418.46V422.04" stroke="#f2b02c" stroke-width="1.05" fill="none"/>
<path d="M421.11 391.23H424.69M422.9 389.44V393.01" stroke="#f2b02c" stroke-width="1.05" fill="none"/>
<path d="M455.64 409.37H459.22M457.43 407.58V411.15" stroke="#f2b02c" stroke-width="1.05" fill="none"/>
<path d="M490.18 353.13H493.75M491.96 351.35V354.92" stroke="#f2b02c" stroke-width="1.05" fill="none"/>
<path d="M524.71 313.22H528.27M526.49 311.44V315.01" stroke="#f2b02c" stroke-width="1.05" fill="none"/>
<polyline points="319.31,460.16 353.84,460.16 388.37,463.79 422.9,460.16 457.43,438.39 491.96,423.88 526.49,367.64" fill="none" stroke="#8536a0" stroke-width="1.05" stroke-dasharray="2.8 2.8"/>
<path d="M319.31 458.1 L318.71 459.12 L317.53 459.13 L318.12 460.16 L317.53 461.19 L318.71 461.19 L319.31 462.22 L319.91 461.19 L321.09 461.19 L320.5 460.16 L321.09 459.13 L319.91 459.12Z" fill="none" stroke="#8536a0" stroke-width="1" stroke-linejoin="miter"/>
<path d="M353.84 458.1 L353.24 459.12 L352.06 459.13 L352.65 460.16 L352.06 461.19 L353.24 461.19 L353.84 462.22 L354.44 461.19 L355.62 461.19 L355.03 460.16 L355.62 459.13 L354.44 459.12Z" fill="none" stroke="#8536a0" stroke-width="1" stroke-linejoin="miter"/>
<path d="M388.37 461.73 L387.77 462.75 L386.59 462.76 L387.18 463.79 L386.59 464.81 L387.77 464.82 L388.37 465.84 L388.97 464.82 L390.15 464.81 L389.56 463.79 L390.15 462.76 L388.97 462.75Z" fill="none" stroke="#8536a0" stroke-width="1" stroke-linejoin="miter"/>
<path d="M422.9 458.1 L422.3 459.12 L421.12 459.13 L421.71 460.16 L421.12 461.19 L422.3 461.19 L422.9 462.22 L423.5 461.19 L424.68 461.19 L424.09 460.16 L424.68 459.13 L423.5 459.12Z" fill="none" stroke="#8536a0" stroke-width="1" stroke-linejoin="miter"/>
<path d="M457.43 436.33 L456.83 437.36 L455.65 437.36 L456.24 438.39 L455.65 439.42 L456.83 439.42 L457.43 440.45 L458.03 439.42 L459.21 439.42 L458.62 438.39 L459.21 437.36 L458.03 437.36Z" fill="none" stroke="#8536a0" stroke-width="1" stroke-linejoin="miter"/>
<path d="M491.96 421.82 L491.36 422.84 L490.18 422.85 L490.77 423.88 L490.18 424.91 L491.36 424.91 L491.96 425.94 L492.56 424.91 L493.74 424.91 L493.15 423.88 L493.74 422.85 L492.56 422.84Z" fill="none" stroke="#8536a0" stroke-width="1" stroke-linejoin="miter"/>
<path d="M526.49 365.59 L525.89 366.61 L524.71 366.62 L525.3 367.64 L524.71 368.67 L525.89 368.68 L526.49 369.7 L527.09 368.68 L528.27 368.67 L527.68 367.64 L528.27 366.62 L527.09 366.61Z" fill="none" stroke="#8536a0" stroke-width="1" stroke-linejoin="miter"/>
<rect x="307.8" y="284.2" width="230.2" height="181.4" fill="none" stroke="#bdbdbd" stroke-width="1"/>
<path d="M307.8 465.6v-2.3M307.8 284.2v2.3M336.57 465.6v-2.3M336.57 284.2v2.3M365.35 465.6v-2.3M365.35 284.2v2.3M394.12 465.6v-2.3M394.12 284.2v2.3M422.9 465.6v-2.3M422.9 284.2v2.3M451.68 465.6v-2.3M451.68 284.2v2.3M480.45 465.6v-2.3M480.45 284.2v2.3M509.23 465.6v-2.3M509.23 284.2v2.3M538 465.6v-2.3M538 284.2v2.3M307.8 465.6h2.3M538 465.6h-2.3M307.8 447.46h2.3M538 447.46h-2.3M307.8 429.32h2.3M538 429.32h-2.3M307.8 411.18h2.3M538 411.18h-2.3M307.8 393.04h2.3M538 393.04h-2.3M307.8 374.9h2.3M538 374.9h-2.3M307.8 356.76h2.3M538 356.76h-2.3M307.8 338.62h2.3M538 338.62h-2.3M307.8 320.48h2.3M538 320.48h-2.3M307.8 302.34h2.3M538 302.34h-2.3M307.8 284.2h2.3M538 284.2h-2.3" stroke="#808080" stroke-width="0.8" fill="none"/>
<g class="tk"><text x="307.8" y="475.8" text-anchor="middle">-20</text><text x="336.57" y="475.8" text-anchor="middle">-15</text><text x="365.35" y="475.8" text-anchor="middle">-10</text><text x="394.12" y="475.8" text-anchor="middle">-5</text><text x="422.9" y="475.8" text-anchor="middle">0</text><text x="451.68" y="475.8" text-anchor="middle">5</text><text x="480.45" y="475.8" text-anchor="middle">10</text><text x="509.23" y="475.8" text-anchor="middle">15</text><text x="538" y="475.8" text-anchor="middle">20</text><text x="304.6" y="468.6" text-anchor="end">0</text><text x="304.6" y="450.46" text-anchor="end">0.1</text><text x="304.6" y="432.32" text-anchor="end">0.2</text><text x="304.6" y="414.18" text-anchor="end">0.3</text><text x="304.6" y="396.04" text-anchor="end">0.4</text><text x="304.6" y="377.9" text-anchor="end">0.5</text><text x="304.6" y="359.76" text-anchor="end">0.6</text><text x="304.6" y="341.62" text-anchor="end">0.7</text><text x="304.6" y="323.48" text-anchor="end">0.8</text><text x="304.6" y="305.34" text-anchor="end">0.9</text><text x="304.6" y="287.2" text-anchor="end">1</text></g>
<text class="al" x="422.9" y="486.4" text-anchor="middle">SNR/dB</text>
<text class="al" transform="translate(291 374.9) rotate(-90)" text-anchor="middle">Accuracy</text>
<text class="ti" x="422.9" y="280.3" text-anchor="middle">SSB-AM</text>
<text class="cap" x="422.1" y="506.2" text-anchor="middle">(d)</text>
<rect x="313.4" y="289.8" width="62.8" height="34.6" fill="#fff" stroke="#b4b4b4" stroke-width="0.9"/>
<path d="M315.8 294.8H336.4" stroke="#2a8bdb" stroke-width="1.15" fill="none"/>
<circle cx="326.1" cy="294.8" r="2.35" fill="none" stroke="#2a8bdb" stroke-width="1.3"/>
<text class="lg" x="338.7" y="297">CDRNN</text>
<path d="M315.8 303.3H336.4" stroke="#e8652a" stroke-width="1.15" stroke-dasharray="2.9 2.9" fill="none"/>
<rect x="324.08" y="301.28" width="4.05" height="4.05" fill="none" stroke="#e8652a" stroke-width="1.3"/>
<text class="lg" x="338.7" y="305.5">ResNet(CA)</text>
<path d="M315.8 311.8H336.4" stroke="#f2b02c" stroke-width="1.15" stroke-dasharray="2.9 2.9" fill="none"/>
<path d="M324.1 311.8H328.1M326.1 309.8V313.8" stroke="#f2b02c" stroke-width="1.3" fill="none"/>
<text class="lg" x="338.7" y="314">STFT-CDSC</text>
<path d="M315.8 320.3H336.4" stroke="#8536a0" stroke-width="1.15" stroke-dasharray="2.9 2.9" fill="none"/>
<path d="M326.1 318 L325.43 319.14 L324.1 319.15 L324.76 320.3 L324.1 321.45 L325.43 321.46 L326.1 322.6 L326.77 321.46 L328.1 321.45 L327.44 320.3 L328.1 319.15 L326.77 319.14Z" fill="none" stroke="#8536a0" stroke-width="1.23" stroke-linejoin="miter"/>
<text class="lg" x="338.7" y="322.5">AWN</text>
<path d="M56.77 550.2V731.6M85.55 550.2V731.6M114.32 550.2V731.6M143.1 550.2V731.6M171.88 550.2V731.6M200.65 550.2V731.6M229.42 550.2V731.6M28 713.46H258.2M28 695.32H258.2M28 677.18H258.2M28 659.04H258.2M28 640.9H258.2M28 622.76H258.2M28 604.62H258.2M28 586.48H258.2M28 568.34H258.2" stroke="#f1f1f1" stroke-width="0.8" fill="none"/>
<polyline points="39.51,691.69 74.04,702.58 108.57,686.25 143.1,671.74 177.63,597.36 212.16,571.97 246.69,555.64" fill="none" stroke="#2a8bdb" stroke-width="1.05"/>
<circle cx="39.51" cy="691.69" r="2.1" fill="none" stroke="#2a8bdb" stroke-width="1.05"/>
<circle cx="74.04" cy="702.58" r="2.1" fill="none" stroke="#2a8bdb" stroke-width="1.05"/>
<circle cx="108.57" cy="686.25" r="2.1" fill="none" stroke="#2a8bdb" stroke-width="1.05"/>
<circle cx="143.1" cy="671.74" r="2.1" fill="none" stroke="#2a8bdb" stroke-width="1.05"/>
<circle cx="177.63" cy="597.36" r="2.1" fill="none" stroke="#2a8bdb" stroke-width="1.05"/>
<circle cx="212.16" cy="571.97" r="2.1" fill="none" stroke="#2a8bdb" stroke-width="1.05"/>
<circle cx="246.69" cy="555.64" r="2.1" fill="none" stroke="#2a8bdb" stroke-width="1.05"/>
<polyline points="39.51,722.53 74.04,724.34 108.57,715.27 143.1,697.13 177.63,628.2 212.16,582.85 246.69,564.71" fill="none" stroke="#e8652a" stroke-width="1.05" stroke-dasharray="2.8 2.8"/>
<rect x="37.7" y="720.72" width="3.61" height="3.61" fill="none" stroke="#e8652a" stroke-width="1.05"/>
<rect x="72.23" y="722.54" width="3.61" height="3.61" fill="none" stroke="#e8652a" stroke-width="1.05"/>
<rect x="106.76" y="713.47" width="3.61" height="3.61" fill="none" stroke="#e8652a" stroke-width="1.05"/>
<rect x="141.29" y="695.33" width="3.61" height="3.61" fill="none" stroke="#e8652a" stroke-width="1.05"/>
<rect x="175.82" y="626.4" width="3.61" height="3.61" fill="none" stroke="#e8652a" stroke-width="1.05"/>
<rect x="210.35" y="581.05" width="3.61" height="3.61" fill="none" stroke="#e8652a" stroke-width="1.05"/>
<rect x="244.88" y="562.91" width="3.61" height="3.61" fill="none" stroke="#e8652a" stroke-width="1.05"/>
<polyline points="39.51,697.13 74.04,698.95 108.57,686.25 143.1,677.18 177.63,617.32 212.16,573.78 246.69,566.53" fill="none" stroke="#f2b02c" stroke-width="1.05" stroke-dasharray="2.8 2.8"/>
<path d="M37.73 697.13H41.29M39.51 695.35V698.92" stroke="#f2b02c" stroke-width="1.05" fill="none"/>
<path d="M72.25 698.95H75.82M74.04 697.16V700.73" stroke="#f2b02c" stroke-width="1.05" fill="none"/>
<path d="M106.78 686.25H110.35M108.57 684.47V688.03" stroke="#f2b02c" stroke-width="1.05" fill="none"/>
<path d="M141.31 677.18H144.88M143.1 675.4V678.97" stroke="#f2b02c" stroke-width="1.05" fill="none"/>
<path d="M175.84 617.32H179.41M177.63 615.53V619.1" stroke="#f2b02c" stroke-width="1.05" fill="none"/>
<path d="M210.38 573.78H213.94M212.16 572V575.57" stroke="#f2b02c" stroke-width="1.05" fill="none"/>
<path d="M244.9 566.53H248.47M246.69 564.74V568.31" stroke="#f2b02c" stroke-width="1.05" fill="none"/>
<polyline points="39.51,708.02 74.04,711.65 108.57,680.81 143.1,648.16 177.63,597.36 212.16,570.15 246.69,566.53" fill="none" stroke="#8536a0" stroke-width="1.05" stroke-dasharray="2.8 2.8"/>
<path d="M39.51 705.96 L38.91 706.98 L37.73 706.99 L38.32 708.02 L37.73 709.05 L38.91 709.05 L39.51 710.08 L40.11 709.05 L41.29 709.05 L40.7 708.02 L41.29 706.99 L40.11 706.98Z" fill="none" stroke="#8536a0" stroke-width="1" stroke-linejoin="miter"/>
<path d="M74.04 709.59 L73.44 710.61 L72.26 710.62 L72.85 711.65 L72.26 712.68 L73.44 712.68 L74.04 713.7 L74.64 712.68 L75.82 712.68 L75.23 711.65 L75.82 710.62 L74.64 710.61Z" fill="none" stroke="#8536a0" stroke-width="1" stroke-linejoin="miter"/>
<path d="M108.57 678.75 L107.97 679.77 L106.79 679.78 L107.38 680.81 L106.79 681.84 L107.97 681.84 L108.57 682.87 L109.17 681.84 L110.35 681.84 L109.76 680.81 L110.35 679.78 L109.17 679.77Z" fill="none" stroke="#8536a0" stroke-width="1" stroke-linejoin="miter"/>
<path d="M143.1 646.1 L142.5 647.12 L141.32 647.13 L141.91 648.16 L141.32 649.19 L142.5 649.19 L143.1 650.21 L143.7 649.19 L144.88 649.19 L144.29 648.16 L144.88 647.13 L143.7 647.12Z" fill="none" stroke="#8536a0" stroke-width="1" stroke-linejoin="miter"/>
<path d="M177.63 595.31 L177.03 596.33 L175.85 596.34 L176.44 597.36 L175.85 598.39 L177.03 598.4 L177.63 599.42 L178.23 598.4 L179.41 598.39 L178.82 597.36 L179.41 596.34 L178.23 596.33Z" fill="none" stroke="#8536a0" stroke-width="1" stroke-linejoin="miter"/>
<path d="M212.16 568.1 L211.56 569.12 L210.38 569.12 L210.97 570.15 L210.38 571.18 L211.56 571.19 L212.16 572.21 L212.76 571.19 L213.94 571.18 L213.35 570.15 L213.94 569.12 L212.76 569.12Z" fill="none" stroke="#8536a0" stroke-width="1" stroke-linejoin="miter"/>
<path d="M246.69 564.47 L246.09 565.49 L244.91 565.5 L245.5 566.53 L244.91 567.56 L246.09 567.56 L246.69 568.58 L247.29 567.56 L248.47 567.56 L247.88 566.53 L248.47 565.5 L247.29 565.49Z" fill="none" stroke="#8536a0" stroke-width="1" stroke-linejoin="miter"/>
<rect x="28" y="550.2" width="230.2" height="181.4" fill="none" stroke="#bdbdbd" stroke-width="1"/>
<path d="M28 731.6v-2.3M28 550.2v2.3M56.77 731.6v-2.3M56.77 550.2v2.3M85.55 731.6v-2.3M85.55 550.2v2.3M114.32 731.6v-2.3M114.32 550.2v2.3M143.1 731.6v-2.3M143.1 550.2v2.3M171.88 731.6v-2.3M171.88 550.2v2.3M200.65 731.6v-2.3M200.65 550.2v2.3M229.42 731.6v-2.3M229.42 550.2v2.3M258.2 731.6v-2.3M258.2 550.2v2.3M28 731.6h2.3M258.2 731.6h-2.3M28 713.46h2.3M258.2 713.46h-2.3M28 695.32h2.3M258.2 695.32h-2.3M28 677.18h2.3M258.2 677.18h-2.3M28 659.04h2.3M258.2 659.04h-2.3M28 640.9h2.3M258.2 640.9h-2.3M28 622.76h2.3M258.2 622.76h-2.3M28 604.62h2.3M258.2 604.62h-2.3M28 586.48h2.3M258.2 586.48h-2.3M28 568.34h2.3M258.2 568.34h-2.3M28 550.2h2.3M258.2 550.2h-2.3" stroke="#808080" stroke-width="0.8" fill="none"/>
<g class="tk"><text x="28" y="741.8" text-anchor="middle">-20</text><text x="56.77" y="741.8" text-anchor="middle">-15</text><text x="85.55" y="741.8" text-anchor="middle">-10</text><text x="114.32" y="741.8" text-anchor="middle">-5</text><text x="143.1" y="741.8" text-anchor="middle">0</text><text x="171.88" y="741.8" text-anchor="middle">5</text><text x="200.65" y="741.8" text-anchor="middle">10</text><text x="229.42" y="741.8" text-anchor="middle">15</text><text x="258.2" y="741.8" text-anchor="middle">20</text><text x="24.8" y="734.6" text-anchor="end">0</text><text x="24.8" y="716.46" text-anchor="end">0.1</text><text x="24.8" y="698.32" text-anchor="end">0.2</text><text x="24.8" y="680.18" text-anchor="end">0.3</text><text x="24.8" y="662.04" text-anchor="end">0.4</text><text x="24.8" y="643.9" text-anchor="end">0.5</text><text x="24.8" y="625.76" text-anchor="end">0.6</text><text x="24.8" y="607.62" text-anchor="end">0.7</text><text x="24.8" y="589.48" text-anchor="end">0.8</text><text x="24.8" y="571.34" text-anchor="end">0.9</text><text x="24.8" y="553.2" text-anchor="end">1</text></g>
<text class="al" x="143.1" y="752.4" text-anchor="middle">SNR/dB</text>
<text class="al" transform="translate(11.2 640.9) rotate(-90)" text-anchor="middle">Accuracy</text>
<text class="ti" x="143.1" y="546.3" text-anchor="middle">PAM4</text>
<text class="cap" x="142.3" y="772.2" text-anchor="middle">(e)</text>
<rect x="33.6" y="555.8" width="62.8" height="34.6" fill="#fff" stroke="#b4b4b4" stroke-width="0.9"/>
<path d="M36 560.8H56.6" stroke="#2a8bdb" stroke-width="1.15" fill="none"/>
<circle cx="46.3" cy="560.8" r="2.35" fill="none" stroke="#2a8bdb" stroke-width="1.3"/>
<text class="lg" x="58.9" y="563">CDRNN</text>
<path d="M36 569.3H56.6" stroke="#e8652a" stroke-width="1.15" stroke-dasharray="2.9 2.9" fill="none"/>
<rect x="44.28" y="567.28" width="4.05" height="4.05" fill="none" stroke="#e8652a" stroke-width="1.3"/>
<text class="lg" x="58.9" y="571.5">ResNet(CA)</text>
<path d="M36 577.8H56.6" stroke="#f2b02c" stroke-width="1.15" stroke-dasharray="2.9 2.9" fill="none"/>
<path d="M44.3 577.8H48.3M46.3 575.8V579.8" stroke="#f2b02c" stroke-width="1.3" fill="none"/>
<text class="lg" x="58.9" y="580">STFT-CDSC</text>
<path d="M36 586.3H56.6" stroke="#8536a0" stroke-width="1.15" stroke-dasharray="2.9 2.9" fill="none"/>
<path d="M46.3 584 L45.63 585.14 L44.3 585.15 L44.96 586.3 L44.3 587.45 L45.63 587.46 L46.3 588.6 L46.97 587.46 L48.3 587.45 L47.64 586.3 L48.3 585.15 L46.97 585.14Z" fill="none" stroke="#8536a0" stroke-width="1.23" stroke-linejoin="miter"/>
<text class="lg" x="58.9" y="588.5">AWN</text>
<path d="M336.57 550.2V731.6M365.35 550.2V731.6M394.12 550.2V731.6M422.9 550.2V731.6M451.68 550.2V731.6M480.45 550.2V731.6M509.23 550.2V731.6M307.8 713.46H538M307.8 695.32H538M307.8 677.18H538M307.8 659.04H538M307.8 640.9H538M307.8 622.76H538M307.8 604.62H538M307.8 586.48H538M307.8 568.34H538" stroke="#f1f1f1" stroke-width="0.8" fill="none"/>
<polyline points="319.31,648.16 353.84,700.76 388.37,693.51 422.9,611.88 457.43,669.92 491.96,600.99 526.49,571.97" fill="none" stroke="#2a8bdb" stroke-width="1.05"/>
<circle cx="319.31" cy="648.16" r="2.1" fill="none" stroke="#2a8bdb" stroke-width="1.05"/>
<circle cx="353.84" cy="700.76" r="2.1" fill="none" stroke="#2a8bdb" stroke-width="1.05"/>
<circle cx="388.37" cy="693.51" r="2.1" fill="none" stroke="#2a8bdb" stroke-width="1.05"/>
<circle cx="422.9" cy="611.88" r="2.1" fill="none" stroke="#2a8bdb" stroke-width="1.05"/>
<circle cx="457.43" cy="669.92" r="2.1" fill="none" stroke="#2a8bdb" stroke-width="1.05"/>
<circle cx="491.96" cy="600.99" r="2.1" fill="none" stroke="#2a8bdb" stroke-width="1.05"/>
<circle cx="526.49" cy="571.97" r="2.1" fill="none" stroke="#2a8bdb" stroke-width="1.05"/>
<polyline points="319.31,675.37 353.84,688.06 388.37,675.37 422.9,628.2 457.43,651.78 491.96,610.06 526.49,566.53" fill="none" stroke="#e8652a" stroke-width="1.05" stroke-dasharray="2.8 2.8"/>
<rect x="317.5" y="673.56" width="3.61" height="3.61" fill="none" stroke="#e8652a" stroke-width="1.05"/>
<rect x="352.03" y="686.26" width="3.61" height="3.61" fill="none" stroke="#e8652a" stroke-width="1.05"/>
<rect x="386.56" y="673.56" width="3.61" height="3.61" fill="none" stroke="#e8652a" stroke-width="1.05"/>
<rect x="421.09" y="626.4" width="3.61" height="3.61" fill="none" stroke="#e8652a" stroke-width="1.05"/>
<rect x="455.62" y="649.98" width="3.61" height="3.61" fill="none" stroke="#e8652a" stroke-width="1.05"/>
<rect x="490.15" y="608.26" width="3.61" height="3.61" fill="none" stroke="#e8652a" stroke-width="1.05"/>
<rect x="524.68" y="564.72" width="3.61" height="3.61" fill="none" stroke="#e8652a" stroke-width="1.05"/>
<polyline points="319.31,669.92 353.84,702.58 388.37,686.25 422.9,657.23 457.43,675.37 491.96,619.13 526.49,579.22" fill="none" stroke="#f2b02c" stroke-width="1.05" stroke-dasharray="2.8 2.8"/>
<path d="M317.52 669.92H321.1M319.31 668.14V671.71" stroke="#f2b02c" stroke-width="1.05" fill="none"/>
<path d="M352.06 702.58H355.63M353.84 700.79V704.36" stroke="#f2b02c" stroke-width="1.05" fill="none"/>
<path d="M386.58 686.25H390.16M388.37 684.47V688.03" stroke="#f2b02c" stroke-width="1.05" fill="none"/>
<path d="M421.11 657.23H424.69M422.9 655.44V659.01" stroke="#f2b02c" stroke-width="1.05" fill="none"/>
<path d="M455.64 675.37H459.22M457.43 673.58V677.15" stroke="#f2b02c" stroke-width="1.05" fill="none"/>
<path d="M490.18 619.13H493.75M491.96 617.35V620.92" stroke="#f2b02c" stroke-width="1.05" fill="none"/>
<path d="M524.71 579.22H528.27M526.49 577.44V581.01" stroke="#f2b02c" stroke-width="1.05" fill="none"/>
<polyline points="319.31,726.16 353.84,726.16 388.37,729.79 422.9,726.16 457.43,704.39 491.96,689.88 526.49,633.64" fill="none" stroke="#8536a0" stroke-width="1.05" stroke-dasharray="2.8 2.8"/>
<path d="M319.31 724.1 L318.71 725.12 L317.53 725.13 L318.12 726.16 L317.53 727.19 L318.71 727.19 L319.31 728.22 L319.91 727.19 L321.09 727.19 L320.5 726.16 L321.09 725.13 L319.91 725.12Z" fill="none" stroke="#8536a0" stroke-width="1" stroke-linejoin="miter"/>
<path d="M353.84 724.1 L353.24 725.12 L352.06 725.13 L352.65 726.16 L352.06 727.19 L353.24 727.19 L353.84 728.22 L354.44 727.19 L355.62 727.19 L355.03 726.16 L355.62 725.13 L354.44 725.12Z" fill="none" stroke="#8536a0" stroke-width="1" stroke-linejoin="miter"/>
<path d="M388.37 727.73 L387.77 728.75 L386.59 728.76 L387.18 729.79 L386.59 730.82 L387.77 730.82 L388.37 731.84 L388.97 730.82 L390.15 730.82 L389.56 729.79 L390.15 728.76 L388.97 728.75Z" fill="none" stroke="#8536a0" stroke-width="1" stroke-linejoin="miter"/>
<path d="M422.9 724.1 L422.3 725.12 L421.12 725.13 L421.71 726.16 L421.12 727.19 L422.3 727.19 L422.9 728.22 L423.5 727.19 L424.68 727.19 L424.09 726.16 L424.68 725.13 L423.5 725.12Z" fill="none" stroke="#8536a0" stroke-width="1" stroke-linejoin="miter"/>
<path d="M457.43 702.33 L456.83 703.36 L455.65 703.36 L456.24 704.39 L455.65 705.42 L456.83 705.42 L457.43 706.45 L458.03 705.42 L459.21 705.42 L458.62 704.39 L459.21 703.36 L458.03 703.36Z" fill="none" stroke="#8536a0" stroke-width="1" stroke-linejoin="miter"/>
<path d="M491.96 687.82 L491.36 688.84 L490.18 688.85 L490.77 689.88 L490.18 690.91 L491.36 690.91 L491.96 691.94 L492.56 690.91 L493.74 690.91 L493.15 689.88 L493.74 688.85 L492.56 688.84Z" fill="none" stroke="#8536a0" stroke-width="1" stroke-linejoin="miter"/>
<path d="M526.49 631.59 L525.89 632.61 L524.71 632.62 L525.3 633.64 L524.71 634.67 L525.89 634.68 L526.49 635.7 L527.09 634.68 L528.27 634.67 L527.68 633.64 L528.27 632.62 L527.09 632.61Z" fill="none" stroke="#8536a0" stroke-width="1" stroke-linejoin="miter"/>
<rect x="307.8" y="550.2" width="230.2" height="181.4" fill="none" stroke="#bdbdbd" stroke-width="1"/>
<path d="M307.8 731.6v-2.3M307.8 550.2v2.3M336.57 731.6v-2.3M336.57 550.2v2.3M365.35 731.6v-2.3M365.35 550.2v2.3M394.12 731.6v-2.3M394.12 550.2v2.3M422.9 731.6v-2.3M422.9 550.2v2.3M451.68 731.6v-2.3M451.68 550.2v2.3M480.45 731.6v-2.3M480.45 550.2v2.3M509.23 731.6v-2.3M509.23 550.2v2.3M538 731.6v-2.3M538 550.2v2.3M307.8 731.6h2.3M538 731.6h-2.3M307.8 713.46h2.3M538 713.46h-2.3M307.8 695.32h2.3M538 695.32h-2.3M307.8 677.18h2.3M538 677.18h-2.3M307.8 659.04h2.3M538 659.04h-2.3M307.8 640.9h2.3M538 640.9h-2.3M307.8 622.76h2.3M538 622.76h-2.3M307.8 604.62h2.3M538 604.62h-2.3M307.8 586.48h2.3M538 586.48h-2.3M307.8 568.34h2.3M538 568.34h-2.3M307.8 550.2h2.3M538 550.2h-2.3" stroke="#808080" stroke-width="0.8" fill="none"/>
<g class="tk"><text x="307.8" y="741.8" text-anchor="middle">-20</text><text x="336.57" y="741.8" text-anchor="middle">-15</text><text x="365.35" y="741.8" text-anchor="middle">-10</text><text x="394.12" y="741.8" text-anchor="middle">-5</text><text x="422.9" y="741.8" text-anchor="middle">0</text><text x="451.68" y="741.8" text-anchor="middle">5</text><text x="480.45" y="741.8" text-anchor="middle">10</text><text x="509.23" y="741.8" text-anchor="middle">15</text><text x="538" y="741.8" text-anchor="middle">20</text><text x="304.6" y="734.6" text-anchor="end">0</text><text x="304.6" y="716.46" text-anchor="end">0.1</text><text x="304.6" y="698.32" text-anchor="end">0.2</text><text x="304.6" y="680.18" text-anchor="end">0.3</text><text x="304.6" y="662.04" text-anchor="end">0.4</text><text x="304.6" y="643.9" text-anchor="end">0.5</text><text x="304.6" y="625.76" text-anchor="end">0.6</text><text x="304.6" y="607.62" text-anchor="end">0.7</text><text x="304.6" y="589.48" text-anchor="end">0.8</text><text x="304.6" y="571.34" text-anchor="end">0.9</text><text x="304.6" y="553.2" text-anchor="end">1</text></g>
<text class="al" x="422.9" y="752.4" text-anchor="middle">SNR/dB</text>
<text class="al" transform="translate(291 640.9) rotate(-90)" text-anchor="middle">Accuracy</text>
<text class="ti" x="422.9" y="546.3" text-anchor="middle">SSB-AM</text>
<text class="cap" x="422.1" y="772.2" text-anchor="middle">(f)</text>
<rect x="313.4" y="555.8" width="62.8" height="34.6" fill="#fff" stroke="#b4b4b4" stroke-width="0.9"/>
<path d="M315.8 560.8H336.4" stroke="#2a8bdb" stroke-width="1.15" fill="none"/>
<circle cx="326.1" cy="560.8" r="2.35" fill="none" stroke="#2a8bdb" stroke-width="1.3"/>
<text class="lg" x="338.7" y="563">CDRNN</text>
<path d="M315.8 569.3H336.4" stroke="#e8652a" stroke-width="1.15" stroke-dasharray="2.9 2.9" fill="none"/>
<rect x="324.08" y="567.28" width="4.05" height="4.05" fill="none" stroke="#e8652a" stroke-width="1.3"/>
<text class="lg" x="338.7" y="571.5">ResNet(CA)</text>
<path d="M315.8 577.8H336.4" stroke="#f2b02c" stroke-width="1.15" stroke-dasharray="2.9 2.9" fill="none"/>
<path d="M324.1 577.8H328.1M326.1 575.8V579.8" stroke="#f2b02c" stroke-width="1.3" fill="none"/>
<text class="lg" x="338.7" y="580">STFT-CDSC</text>
<path d="M315.8 586.3H336.4" stroke="#8536a0" stroke-width="1.15" stroke-dasharray="2.9 2.9" fill="none"/>
<path d="M326.1 584 L325.43 585.14 L324.1 585.15 L324.76 586.3 L324.1 587.45 L325.43 587.46 L326.1 588.6 L326.77 587.46 L328.1 587.45 L327.44 586.3 L328.1 585.15 L326.77 585.14Z" fill="none" stroke="#8536a0" stroke-width="1.23" stroke-linejoin="miter"/>
<text class="lg" x="338.7" y="588.5">AWN</text>
</svg>
</body></html>
